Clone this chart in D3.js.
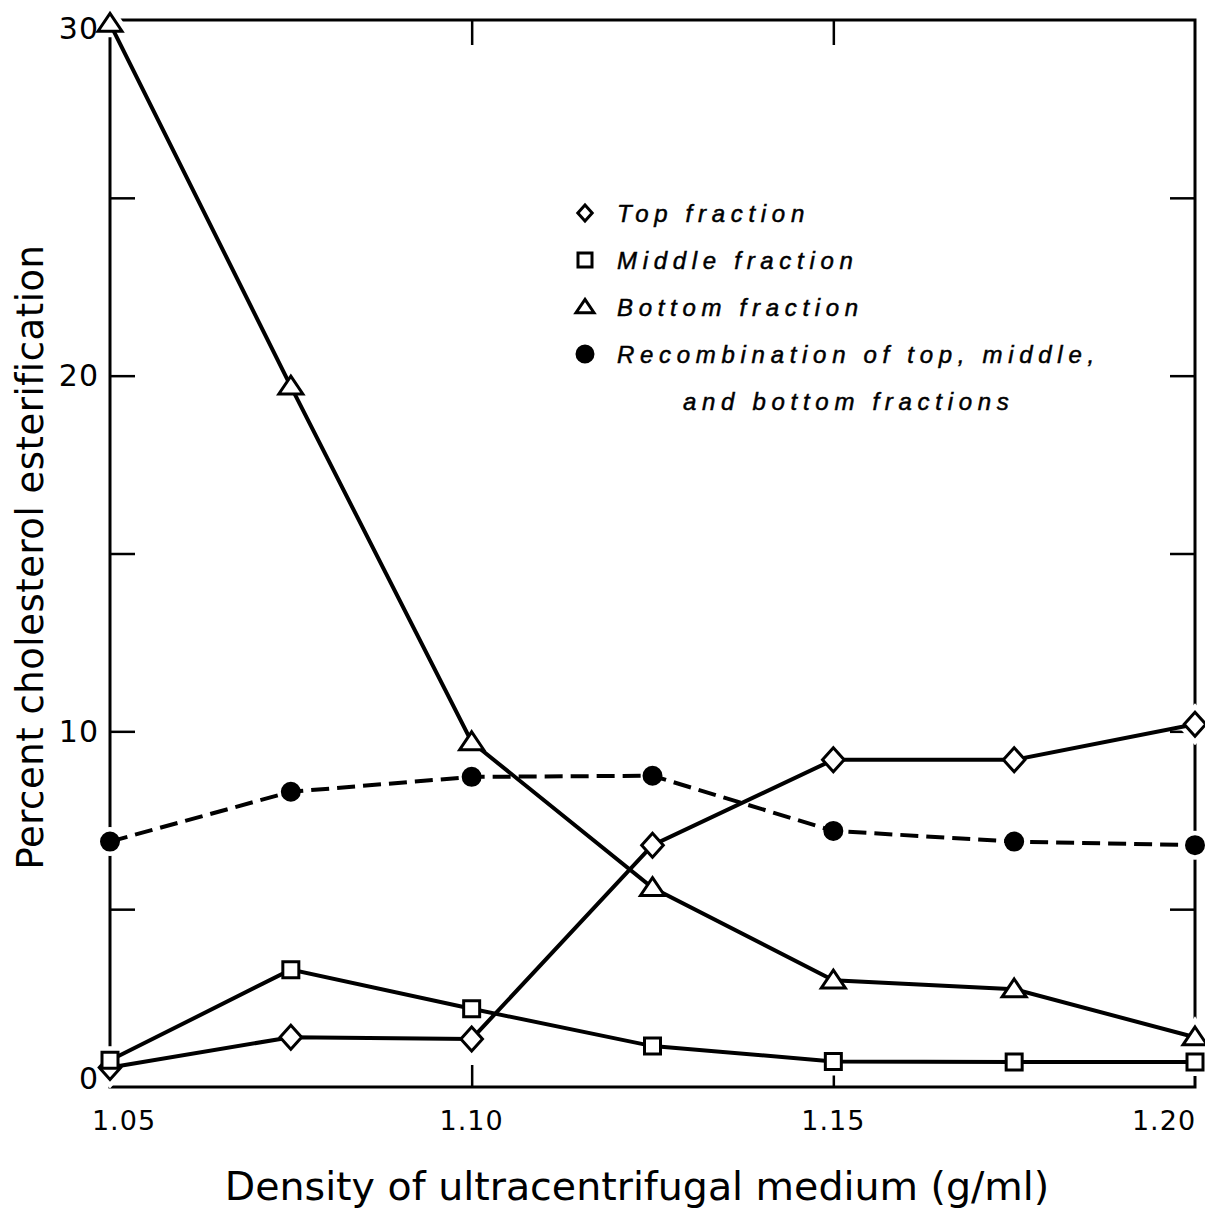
<!DOCTYPE html>
<html>
<head>
<meta charset="utf-8">
<script src="https://cdn.jsdelivr.net/npm/d3@7"></script>
<style>
  body { margin: 0; background: #fff; }
  svg { display: block; }
</style>
</head>
<body>
<svg id="chart" width="1205" height="1212"></svg>
<script>
// density values (g/ml)
var density = [1.05, 1.075, 1.10, 1.125, 1.15, 1.175, 1.20];

// percent cholesterol esterification
var topFraction    = [0.55, 1.4, 1.35, 6.8, 9.2, 9.2, 10.2];
var middleFraction = [0.75, 3.3, 2.2, 1.15, 0.72, 0.7, 0.7];
var bottomFraction = [29.9, 19.7, 9.7, 5.6, 3.0, 2.75, 1.4];
var recombination  = [6.9, 8.3, 8.72, 8.75, 7.2, 6.9, 6.8];

var xTickValues = [1.05, 1.10, 1.15, 1.20];
var xTickLabels = ['1.05', '1.10', '1.15', '1.20'];
var yTickValues = [0, 10, 20, 30];
var yMinorTicks = [5, 10, 15, 20, 25];

var legendLabels = [
    ['Top fraction'],
    ['Middle fraction'],
    ['Bottom fraction'],
    ['Recombination of top, middle,', 'and bottom fractions']
];

(function() {
    var svg = d3.select('#chart');

    var plotLeft = 110, plotRight = 1195, plotTop = 20, plotBottom = 1087;

    var x = d3.scaleLinear().domain([1.05, 1.20]).range([plotLeft, plotRight]);
    var y = d3.scaleLinear().domain([0, 30]).range([plotBottom, plotTop]);

    // marker shapes
    function diamond(s) {
        var w = s * 0.9, h = s;
        return 'M0,' + (-h) + 'L' + w + ',0L0,' + h + 'L' + (-w) + ',0Z';
    }
    function square(s) {
        return 'M' + (-s) + ',' + (-s) + 'h' + (2 * s) + 'v' + (2 * s) + 'h' + (-2 * s) + 'Z';
    }
    function triangle(s) {
        var h = s * 0.85;
        return 'M0,' + (-h) + 'L' + s + ',' + (h * 0.75) + 'L' + (-s) + ',' + (h * 0.75) + 'Z';
    }
    function circle(s) {
        return d3.symbol(d3.symbolCircle, Math.PI * s * s)();
    }

    var series = [
        { values: topFraction,    shape: diamond,  size: 12,  fill: '#fff', dash: null },
        { values: middleFraction, shape: square,   size: 8,   fill: '#fff', dash: null },
        { values: bottomFraction, shape: triangle, size: 12,  fill: '#fff', dash: null },
        { values: recombination,  shape: circle,   size: 8.5, fill: '#000', dash: '18,8' }
    ];

    // frame
    svg.append('rect')
        .attr('x', plotLeft).attr('y', plotTop)
        .attr('width', plotRight - plotLeft).attr('height', plotBottom - plotTop)
        .attr('fill', 'none').attr('stroke', '#000').attr('stroke-width', 3);

    // inward ticks
    var yAxisL = d3.axisRight(y).tickValues(yMinorTicks).tickSize(25).tickFormat('');
    var yAxisR = d3.axisLeft(y).tickValues(yMinorTicks).tickSize(25).tickFormat('');
    var xAxisB = d3.axisTop(x).tickValues([1.10, 1.15]).tickSize(22).tickFormat('');
    var xAxisT = d3.axisBottom(x).tickValues([1.10, 1.15]).tickSize(25).tickFormat('');

    [[yAxisL, 'translate(' + plotLeft + ',0)'], [yAxisR, 'translate(' + plotRight + ',0)'],
     [xAxisB, 'translate(0,' + plotBottom + ')'], [xAxisT, 'translate(0,' + plotTop + ')']].forEach(function(a) {
        var g = svg.append('g').attr('transform', a[1]).call(a[0]);
        g.select('.domain').remove();
        g.selectAll('line').attr('stroke', '#000').attr('stroke-width', 2.5);
    });

    // white halos so the frame breaks around markers
    series.forEach(function(s) {
        svg.append('g').selectAll('path')
            .data(s.values)
            .enter().append('path')
            .attr('transform', function(d, i) { return 'translate(' + x(density[i]) + ',' + y(d) + ')'; })
            .attr('d', s.shape(s.size))
            .attr('fill', '#fff').attr('stroke', '#fff').attr('stroke-width', 12);
    });

    // lines
    var line = d3.line()
        .x(function(d, i) { return x(density[i]); })
        .y(function(d) { return y(d); });

    series.forEach(function(s) {
        svg.append('path')
            .datum(s.values)
            .attr('d', line)
            .attr('fill', 'none')
            .attr('stroke', '#000')
            .attr('stroke-width', 4)
            .attr('stroke-dasharray', s.dash);
    });

    // markers
    series.forEach(function(s) {
        svg.append('g').selectAll('path')
            .data(s.values)
            .enter().append('path')
            .attr('transform', function(d, i) { return 'translate(' + x(density[i]) + ',' + y(d) + ')'; })
            .attr('d', s.shape(s.size))
            .attr('fill', s.fill).attr('stroke', '#000').attr('stroke-width', 3);
    });

    // tick labels
    var yLabelShift = { 0: -9, 30: 8 };
    svg.append('g').selectAll('text')
        .data(yTickValues)
        .enter().append('text')
        .attr('x', plotLeft - 11)
        .attr('y', function(d) { return y(d) + (yLabelShift[d] || 0); })
        .attr('dy', '0.36em')
        .attr('text-anchor', 'end')
        .style('font-family', 'DejaVu Sans, sans-serif')
        .style('font-size', '30px')
        .style('letter-spacing', '1px')
        .text(function(d) { return d; });

    var xLabelShift = [14, 0, 0, -31];
    svg.append('g').selectAll('text')
        .data(xTickValues)
        .enter().append('text')
        .attr('x', function(d, i) { return x(d) + xLabelShift[i]; })
        .attr('y', 1130)
        .attr('text-anchor', 'middle')
        .style('font-family', 'DejaVu Sans, sans-serif')
        .style('font-size', '27px')
        .style('letter-spacing', '1px')
        .text(function(d, i) { return xTickLabels[i]; });

    // axis titles
    svg.append('text')
        .attr('x', 637).attr('y', 1200)
        .attr('text-anchor', 'middle')
        .style('font-family', 'DejaVu Sans, sans-serif')
        .style('font-size', '39.5px')
        .text('Density of ultracentrifugal medium (g/ml)');

    svg.append('text')
        .attr('transform', 'translate(43,557) rotate(-90)')
        .attr('text-anchor', 'middle')
        .style('font-family', 'DejaVu Sans, sans-serif')
        .style('font-size', '37px')
        .style('letter-spacing', '0.5px')
        .text('Percent cholesterol esterification');

    // legend
    var legend = svg.append('g').attr('transform', 'translate(585,213)');
    var legendSizes = [8, 7, 9, 8];
    legendLabels.forEach(function(lines, i) {
        var s = series[i];
        var row = legend.append('g').attr('transform', 'translate(0,' + (i * 47) + ')');
        row.append('path')
            .attr('d', s.shape(legendSizes[i]))
            .attr('fill', s.fill).attr('stroke', '#000').attr('stroke-width', 3);
        lines.forEach(function(t, j) {
            row.append('text')
                .attr('x', j === 0 ? 32 : 98)
                .attr('y', j * 47)
                .attr('dy', '0.36em')
                .style('font-family', 'Liberation Sans, sans-serif')
                .style('font-style', 'italic')
                .style('font-size', '24px')
                .style('letter-spacing', '5.7px')
                .style('stroke', '#000')
                .style('stroke-width', '0.5px')
                .text(t);
        });
    });
})();
</script>
</body>
</html>
